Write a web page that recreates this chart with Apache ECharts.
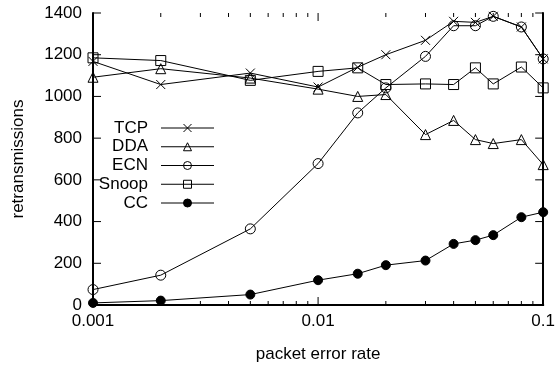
<!DOCTYPE html>
<html>
<head>
<meta charset="utf-8">
<script src="https://cdn.jsdelivr.net/npm/echarts@6/dist/echarts.min.js"></script>
<style>
html,body{margin:0;padding:0;background:#fff;}
#c{width:558px;height:368px;}
</style>
</head>
<body>
<div id="c"></div>
<script>
var errorRates = [0.001, 0.002, 0.005, 0.01, 0.015, 0.02, 0.03, 0.04, 0.05, 0.06, 0.08, 0.1];
var tcp   = [1168, 1057, 1112, 1045, 1140, 1200, 1269, 1360, 1355, 1384, 1333, 1180];
var dda   = [1092, 1133, 1088, 1035, 1000, 1009, 817, 885, 793, 774, 793, 673];
var ecn   = [74, 143, 365, 678, 921, 1041, 1192, 1339, 1339, 1384, 1333, 1180];
var snoop = [1185, 1172, 1077, 1120, 1137, 1057, 1060, 1057, 1137, 1060, 1141, 1041];
var cc    = [10, 21, 50, 119, 150, 191, 213, 293, 311, 335, 421, 445];
var xMajorTicks = [0.001, 0.01, 0.1];
var xMinorTicks = [0.002, 0.003, 0.004, 0.005, 0.006, 0.007, 0.008, 0.009,
                   0.02, 0.03, 0.04, 0.05, 0.06, 0.07, 0.08, 0.09];
var yTicks = [0, 200, 400, 600, 800, 1000, 1200, 1400];
var seriesNames = ['TCP', 'DDA', 'ECN', 'Snoop', 'CC'];

var X_MIN = xMajorTicks[0], X_MAX = xMajorTicks[xMajorTicks.length - 1];
var Y_MIN = yTicks[0], Y_MAX = yTicks[yTicks.length - 1];

function pairs(vals) {
  return errorRates.map(function (x, i) { return [x, vals[i]]; });
}

var FONT = 'Liberation Sans, Arial, sans-serif';
var chart = echarts.init(document.getElementById('c'), null, {renderer: 'canvas'});

function lineSeries(name, vals, symbol, size, fill) {
  return {
    name: name,
    type: 'line',
    data: pairs(vals),
    symbol: symbol,
    symbolSize: size,
    showAllSymbol: true,
    animation: false,
    z: 3,
    lineStyle: {color: '#000', width: 1},
    itemStyle: {color: fill, borderColor: '#000', borderWidth: 1},
    emphasis: {disabled: true}
  };
}

function tickLine(x1, y1, x2, y2) {
  return {type: 'line', shape: {x1: x1, y1: y1, x2: x2, y2: y2}, style: {stroke: '#000', lineWidth: 1}};
}

// ticks drawn inward on all four sides, positioned through the axes' scales
function xTickSeries(values, len) {
  return {
    type: 'custom', silent: true, clip: false, animation: false, z: 4,
    data: values.map(function (v) { return [v, Y_MIN]; }),
    renderItem: function (params, api) {
      var x = api.value(0);
      var b = api.coord([x, Y_MIN]);
      var t = api.coord([x, Y_MAX]);
      return {type: 'group', children: [
        tickLine(b[0], b[1], b[0], b[1] - len),
        tickLine(t[0], t[1], t[0], t[1] + len)
      ]};
    }
  };
}
function yTickSeries(values, len) {
  return {
    type: 'custom', silent: true, clip: false, animation: false, z: 4,
    data: values.map(function (v) { return [X_MIN, v]; }),
    renderItem: function (params, api) {
      var y = api.value(1);
      var l = api.coord([X_MIN, y]);
      var r = api.coord([X_MAX, y]);
      return {type: 'group', children: [
        tickLine(l[0], l[1], l[0] + len, l[1]),
        tickLine(r[0], r[1], r[0] - len, r[1])
      ]};
    }
  };
}

var axisLineStyle = {show: true, lineStyle: {color: '#000', width: 2}};

var option = {
  animation: false,
  backgroundColor: '#fff',
  grid: {left: 93, right: 13, top: 13, bottom: 62, containLabel: false},
  legend: {
    data: seriesNames,
    orient: 'vertical',
    left: 87,
    top: 114,
    align: 'right',
    itemWidth: 53,
    itemHeight: 10,
    itemGap: 0.75,
    selectedMode: false,
    lineStyle: {width: 1},
    itemStyle: {borderWidth: 1},
    formatter: function (n) { return '{a|' + n + '}'; },
    textStyle: {
      color: '#000', fontFamily: FONT, fontSize: 17, lineHeight: 18,
      rich: {a: {width: 56, align: 'right', fontSize: 17, fontFamily: FONT, color: '#000', padding: [0, 8, 0, 0]}}
    }
  },
  xAxis: [{
    type: 'log', logBase: 10, min: X_MIN, max: X_MAX,
    position: 'bottom',
    name: 'packet error rate', nameLocation: 'middle', nameGap: 41,
    nameTextStyle: {color: '#000', fontFamily: FONT, fontSize: 17},
    axisLine: axisLineStyle,
    axisTick: {show: false},
    axisLabel: {color: '#000', fontFamily: FONT, fontSize: 17, margin: 8,
      formatter: function (v) { return String(v); }},
    splitLine: {show: false}
  }, {
    type: 'log', logBase: 10, min: X_MIN, max: X_MAX,
    position: 'top',
    axisLine: axisLineStyle,
    axisTick: {show: false},
    axisLabel: {show: false},
    splitLine: {show: false}
  }],
  yAxis: [{
    type: 'value', min: Y_MIN, max: Y_MAX, interval: 200,
    position: 'left',
    name: 'retransmissions', nameLocation: 'middle', nameGap: 66,
    nameTextStyle: {color: '#000', fontFamily: FONT, fontSize: 17},
    axisLine: axisLineStyle,
    axisTick: {show: false},
    axisLabel: {color: '#000', fontFamily: FONT, fontSize: 17, margin: 11,
      formatter: function (v) { return String(v); }},
    splitLine: {show: false}
  }, {
    type: 'value', min: Y_MIN, max: Y_MAX, interval: 200,
    position: 'right',
    axisLine: axisLineStyle,
    axisTick: {show: false},
    axisLabel: {show: false},
    splitLine: {show: false}
  }],
  series: [
    xTickSeries(xMajorTicks, 8),
    xTickSeries(xMinorTicks, 4),
    yTickSeries(yTicks, 8),
    lineSeries('TCP', tcp, 'path://M0,0L10,10M10,0L0,10', 9, 'rgba(0,0,0,0)'),
    lineSeries('DDA', dda, 'triangle', 10, 'rgba(0,0,0,0)'),
    lineSeries('ECN', ecn, 'circle', 10, 'rgba(0,0,0,0)'),
    lineSeries('Snoop', snoop, 'rect', 10, 'rgba(0,0,0,0)'),
    lineSeries('CC', cc, 'circle', 9, '#000')
  ]
};
chart.setOption(option);
</script>
</body>
</html>
